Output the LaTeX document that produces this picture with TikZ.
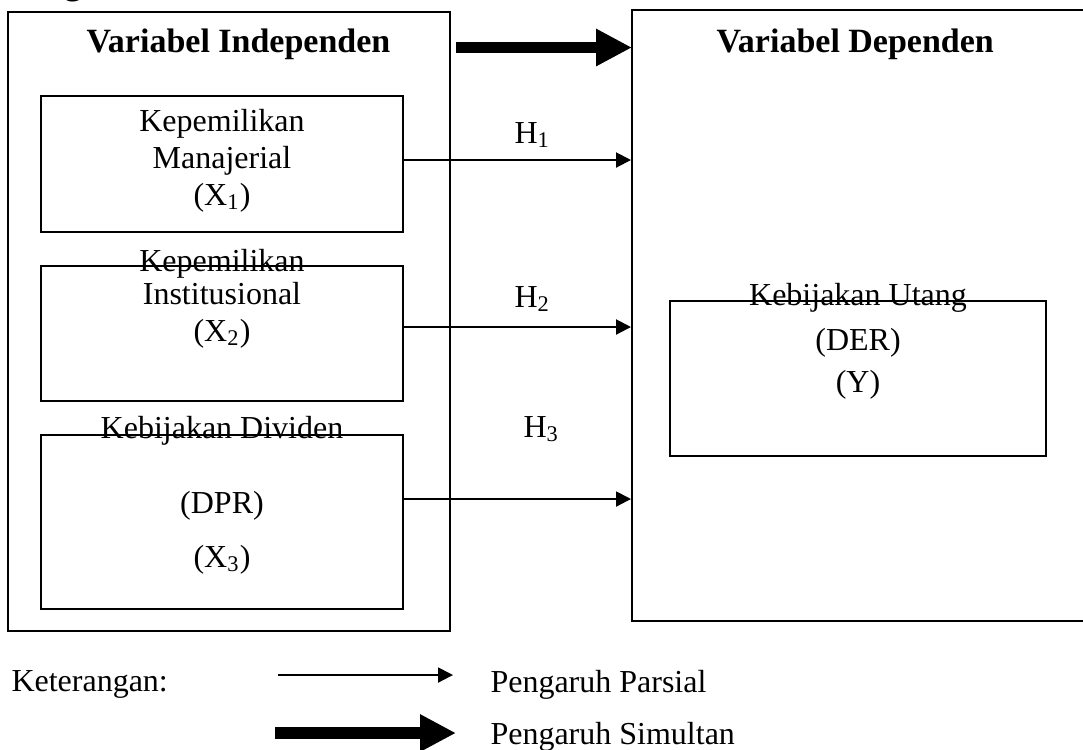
\documentclass[tikz,border=0pt]{standalone}
\usepackage{fontspec}
\setmainfont{Liberation Serif}
\usetikzlibrary{arrows.meta,fit}
\begin{document}
\begin{tikzpicture}[x=0.4pt,y=-0.4pt,
  frame/.style={draw, line width=0.8pt, inner sep=0pt},
  txt/.style={anchor=base, inner sep=0pt, font=\fontsize{12.8pt}{14pt}\selectfont},
  txtw/.style={anchor=base west, inner sep=0pt, font=\fontsize{12.8pt}{14pt}\selectfont},
  ttl/.style={anchor=base west, inner sep=0pt, font=\fontsize{13.6pt}{15pt}\selectfont\bfseries},
  partial/.style={line width=0.8pt, -{Triangle[length=6pt,width=6pt]}},
  simul/.style={line width=4.7pt, -{Triangle[length=14.4pt,width=14pt]}}]
\useasboundingbox (0,0) rectangle (1083,749);
\clip (0,0) rectangle (1083,749);

% cut-off heading fragment
\node[txt, font=\fontsize{13.6pt}{15pt}\selectfont\bfseries] (frag) at (73,-6) {g};

% outer boxes
\node[frame, fit={(8,12) (450,631)}] (L) {};
\node[frame, fit={(632,10) (1100,621)}] (R) {};

% inner boxes
\node[frame, fit={(41,96) (403,232)}] (b1) {};
\node[frame, fit={(41,266) (403,401)}] (b2) {};
\node[frame, fit={(41,435) (403,609)}] (b3) {};
\node[frame, fit={(670,301) (1046,456)}] (by) {};

% titles
\node[ttl] (tL) at (86,52) {Variabel Independen};
\node[ttl] (tR) at (716,52) {Variabel Dependen};

% box texts
\node[txt] (b1a) at (222,131) {Kepemilikan};
\node[txt] (b1b) at (222,168) {Manajerial};
\node[txt] (b1c) at (222,205) {(X\textsubscript{1})};
\node[txt] (b2a) at (222,271) {Kepemilikan};
\node[txt] (b2b) at (222,304) {Institusional};
\node[txt] (b2c) at (222,341) {(X\textsubscript{2})};
\node[txt] (b3a) at (222,438) {Kebijakan Dividen};
\node[txt] (b3b) at (222,513) {(DPR)};
\node[txt] (b3c) at (222,567) {(X\textsubscript{3})};
\node[txt] (bya) at (858,305) {Kebijakan Utang};
\node[txt] (byb) at (858,350) {(DER)};
\node[txt] (byc) at (858,392) {(Y)};

% hypothesis labels
\node[txtw] (h1) at (514,143) {H\textsubscript{1}};
\node[txtw] (h2) at (514,307) {H\textsubscript{2}};
\node[txtw] (h3) at (523,437) {H\textsubscript{3}};

% connectors
\coordinate (yt) at (0,47.5);
\coordinate (y1) at (0,160);
\coordinate (y2) at (0,327);
\coordinate (y3) at (0,499);
\draw[simul] ([xshift=2pt]L.east |- yt) -- ([xshift=0.4pt]R.west |- yt);
\draw[partial] (b1.east |- y1) -- (R.west |- y1);
\draw[partial] (b2.east |- y2) -- (R.west |- y2);
\draw[partial] (b3.east |- y3) -- (R.west |- y3);

% legend
\node[txtw] (ket) at (11,691) {Keterangan:};
\coordinate (lp1) at (278,675);
\coordinate (lp2) at (453,675);
\coordinate (ls1) at (275,733);
\coordinate (ls2) at (456,733);
\draw[partial] (lp1) -- (lp2);
\draw[simul] (ls1) -- (ls2);
\node[txtw] (lpt) at (490,692) {Pengaruh Parsial};
\node[txtw] (lst) at (490,744) {Pengaruh Simultan};
\end{tikzpicture}
\end{document}
